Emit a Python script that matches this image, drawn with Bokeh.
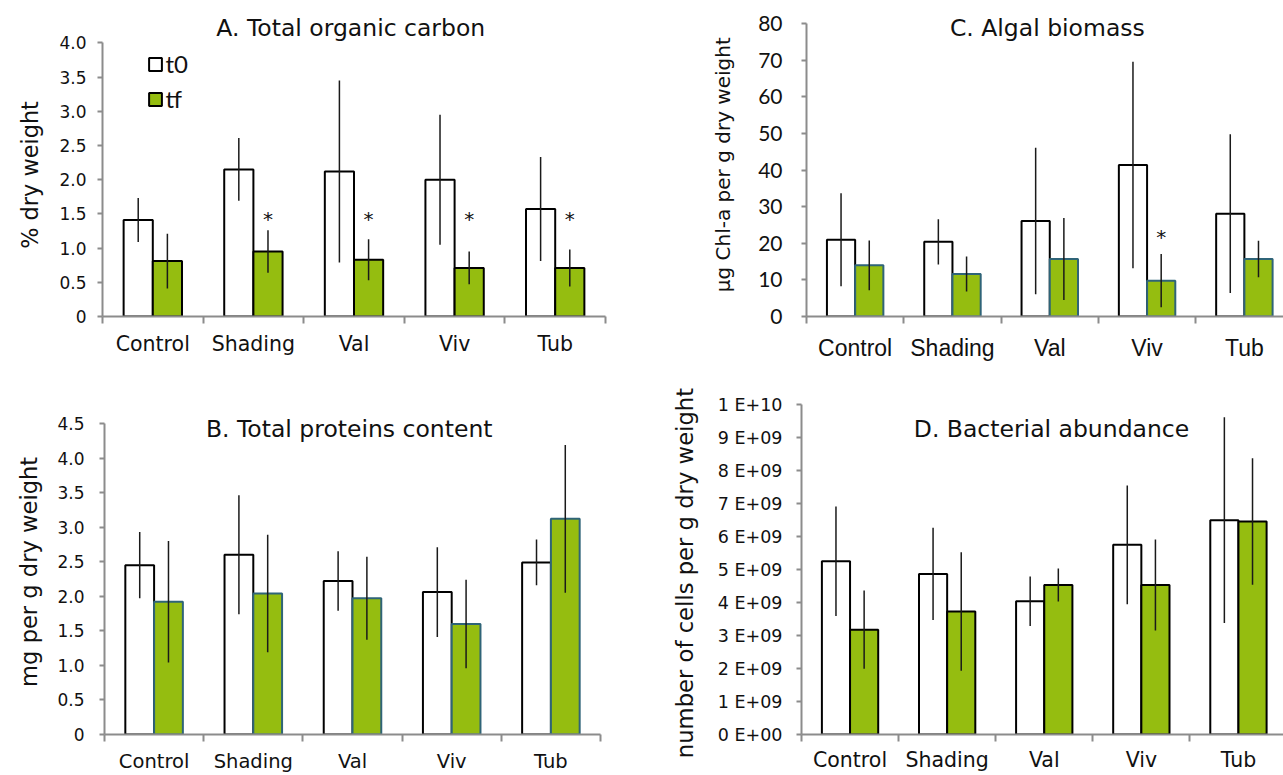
from bokeh.plotting import figure
from bokeh.layouts import column, row
from bokeh.models import (FixedTicker, CustomJSTickFormatter, Label, Legend,
                          LegendItem, Range1d, Title)
from bokeh.embed import file_html
from bokeh.resources import INLINE
from bokeh.core.properties import value

# ---------------- data ----------------
categories = ["Control", "Shading", "Val", "Viv", "Tub"]

# A. Total organic carbon (% dry weight)
toc_t0 = [1.41, 2.15, 2.12, 2.00, 1.57]
toc_t0_err = [0.32, 0.46, 1.33, 0.95, 0.76]
toc_tf = [0.81, 0.95, 0.83, 0.71, 0.71]
toc_tf_err = [0.40, 0.31, 0.30, 0.24, 0.27]
toc_star = [None, 1.5, 1.5, 1.5, 1.5]

# B. Total proteins content (mg per g dry weight)
prot_t0 = [2.45, 2.60, 2.22, 2.06, 2.49]
prot_t0_err = [0.48, 0.86, 0.43, 0.65, 0.33]
prot_tf = [1.92, 2.04, 1.97, 1.60, 3.12]
prot_tf_err = [0.88, 0.85, 0.60, 0.64, 1.07]

# C. Algal biomass (ug Chl-a per g dry weight)
chl_t0 = [21.0, 20.4, 26.1, 41.4, 28.1]
chl_t0_err = [12.7, 6.2, 20.0, 28.2, 21.7]
chl_tf = [14.0, 11.6, 15.7, 9.8, 15.7]
chl_tf_err = [6.8, 4.8, 11.2, 7.3, 5.0]
chl_star = [None, None, None, 23.2, None]

# D. Bacterial abundance (cells per g dry weight)
bac_t0 = [5.25e9, 4.87e9, 4.04e9, 5.75e9, 6.50e9]
bac_t0_err = [1.66e9, 1.40e9, 0.75e9, 1.80e9, 3.12e9]
bac_tf = [3.18e9, 3.73e9, 4.53e9, 4.53e9, 6.46e9]
bac_tf_err = [1.19e9, 1.80e9, 0.50e9, 1.38e9, 1.92e9]

series_labels = ["t0", "tf"]

# ---------------- style ----------------
GREEN = "#95BD10"
TEAL = "#2F6478"
AXIS = "#8C8C8C"
TXT = "#111111"
DJ = "DejaVu Sans"
BW = 0.29


def panel(t0, t0e, tf, tfe, title, ylabel, ymax, ystep, yend, xmax,
          width, height, borders, tf_line, tick_font, tick_size,
          tick_standoff, ylab_font, ylab_size, ylab_standoff, ylab_offset,
          cat_font, cat_size, cat_standoff, title_pos, yfmt,
          stars=None):
    n = len(categories)
    p = figure(width=width, height=height, output_backend="svg",
               toolbar_location=None,
               x_range=Range1d(0, xmax), y_range=Range1d(0, yend),
               min_border_left=borders[0], min_border_right=borders[1],
               min_border_top=borders[2], min_border_bottom=borders[3])
    p.xgrid.visible = False
    p.ygrid.visible = False
    p.outline_line_color = None
    p.background_fill_color = "white"
    p.border_fill_color = "white"

    x0 = [i + 0.5 - BW / 2 for i in range(n)]
    x1 = [i + 0.5 + BW / 2 for i in range(n)]
    r0 = p.vbar(x=x0, top=t0, width=BW, bottom=0, fill_color="white",
                line_color="black", line_width=2)
    r1 = p.vbar(x=x1, top=tf, width=BW, bottom=0, fill_color=GREEN,
                line_color=tf_line, line_width=2)
    p.segment(x0=x0, y0=[v - e for v, e in zip(t0, t0e)], x1=x0,
              y1=[v + e for v, e in zip(t0, t0e)], line_color="#1a1a1a",
              line_width=1.5)
    p.segment(x0=x1, y0=[v - e for v, e in zip(tf, tfe)], x1=x1,
              y1=[v + e for v, e in zip(tf, tfe)], line_color="#1a1a1a",
              line_width=1.5)
    if stars is not None:
        sx = [x for x, s in zip(x1, stars) if s is not None]
        sy = [s for s in stars if s is not None]
        p.text(x=sx, y=sy, text=["*"] * len(sx), text_font=value(DJ),
               text_font_size="20px", text_align="center",
               text_baseline="middle", y_offset=5, text_color=TXT)

    # x axis
    xa = p.xaxis[0]
    xa.ticker = FixedTicker(ticks=[i + 0.5 for i in range(n)],
                            minor_ticks=list(range(n + 1)))
    xa.formatter = CustomJSTickFormatter(args=dict(cats=categories),
                                         code="return cats[Math.floor(tick)]")
    xa.axis_line_color = AXIS
    xa.axis_line_width = 2
    xa.major_tick_line_color = None
    xa.major_tick_out = 0
    xa.major_tick_in = 0
    xa.minor_tick_line_color = AXIS
    xa.minor_tick_line_width = 2
    xa.minor_tick_out = 7
    xa.minor_tick_in = 0
    xa.major_label_text_font = cat_font
    xa.major_label_text_font_size = cat_size
    xa.major_label_text_color = TXT
    xa.major_label_standoff = cat_standoff

    # y axis
    ya = p.yaxis[0]
    nt = int(round(ymax / ystep))
    ya.ticker = FixedTicker(ticks=[k * ystep for k in range(nt + 1)])
    ya.bounds = (0, ymax)
    ya.formatter = CustomJSTickFormatter(code=yfmt)
    ya.axis_line_color = AXIS
    ya.axis_line_width = 2
    ya.major_tick_line_color = AXIS
    ya.major_tick_line_width = 2
    ya.major_tick_out = 5
    ya.major_tick_in = 0
    ya.minor_tick_line_color = None
    ya.major_label_text_font = tick_font
    ya.major_label_text_font_size = tick_size
    ya.major_label_text_color = TXT
    ya.major_label_standoff = tick_standoff

    p.add_layout(Title(text=ylabel, align="left", vertical_align="bottom",
                       offset=ylab_offset, standoff=ylab_standoff,
                       text_font=ylab_font, text_font_size=ylab_size,
                       text_font_style="normal", text_color=TXT), "left")

    p.add_layout(Label(x=title_pos[0], y=title_pos[1], text=title,
                       text_font=DJ, text_font_size="23.5px",
                       text_align="center", text_baseline="middle",
                       text_color=TXT))
    return p, r0, r1


FMT1 = "return tick == 0 ? '0' : tick.toFixed(1)"
FMT0 = "return tick.toFixed(0)"
FMTE = ("if (tick == 0) return '0 E+00';"
        "const e = Math.floor(Math.log10(tick) + 1e-9);"
        "const m = Math.round(tick / Math.pow(10, e));"
        "return m + ' E+' + String(e).padStart(2, '0');")

pA, a0, a1 = panel(toc_t0, toc_t0_err, toc_tf, toc_tf_err,
                   "A. Total organic carbon", "% dry weight", 4.0, 0.5,
                   4.618, 5, 640, 384, (101, 35, 0, 68), "black",
                   DJ, "17px", 11, DJ, "22.4px", 28, 67.7,
                   DJ, "20.5px", 8, (2.468, 4.216), FMT1, stars=toc_star)
legend = Legend(items=[LegendItem(label=series_labels[0], renderers=[a0]),
                       LegendItem(label=series_labels[1], renderers=[a1])],
                location=(44.5, 203), padding=0, margin=0,
                border_line_color=None, background_fill_alpha=0,
                label_text_font="Lato", label_text_font_size="24px",
                label_text_color=TXT,
                glyph_width=16, glyph_height=16, label_height=28,
                spacing=6, label_standoff=3)
pA.add_layout(legend)

pC, _, _ = panel(chl_t0, chl_t0_err, chl_tf, chl_tf_err,
                 "C. Algal biomass", "µg Chl-a per g dry weight", 80, 10,
                 86.37, 4.902, 643, 384, (166, 0, 0, 68), TEAL,
                 "Lato", "21px", 19, DJ, "20px", 41, 24.3,
                 "Liberation Sans", "23px", 11, (2.475, 78.8), FMT0,
                 stars=chl_star)

pB, _, _ = panel(prot_t0, prot_t0_err, prot_tf, prot_tf_err,
                 "B. Total proteins content", "mg per g dry weight", 4.5,
                 0.5, 5.064, 5, 640, 391, (102, 40, 0, 41), TEAL,
                 DJ, "17px", 15, DJ, "22.6px", 26, 47.6,
                 DJ, "19.5px", 8, (2.467, 4.415), FMT1)

pD, _, _ = panel(bac_t0, bac_t0_err, bac_tf, bac_tf_err,
                 "D. Bacterial abundance", "number of cells per g dry weight",
                 1e10, 1e9, 1.0613e10, 4.964, 643, 391, (161, 0, 0, 41),
                 "black", DJ, "17.5px", 14, DJ, "22.7px", 33, -23.7,
                 DJ, "20.5px", 6, (2.575, 0.925e10), FMTE)

layout = column(row(pA, pC, spacing=0), row(pB, pD, spacing=0), spacing=0)

with open("out.html", "w") as f:
    f.write(file_html(layout, INLINE))
